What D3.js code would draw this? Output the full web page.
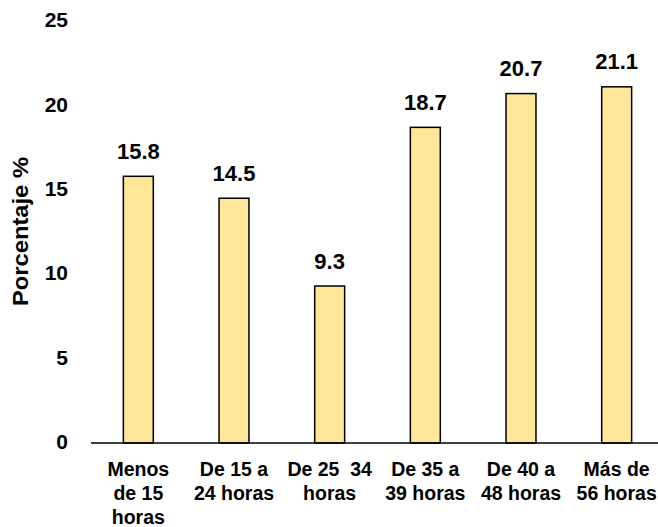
<!DOCTYPE html>
<html>
<head>
<meta charset="utf-8">
<script src="https://cdn.jsdelivr.net/npm/d3@7"></script>
<style>
  html, body { margin: 0; padding: 0; background: #fff; }
  svg { display: block; font-family: "Liberation Sans", Arial, sans-serif; }
</style>
</head>
<body>
<svg id="chart" width="658" height="527"></svg>
<script>
// Weekly working hours categories (each label split in lines)
const categories = [
  ["Menos", "de 15", "horas"],
  ["De 15 a", "24 horas"],
  ["De 25  34", "horas"],
  ["De 35 a", "39 horas"],
  ["De 40 a", "48 horas"],
  ["Más de", "56 horas"]
];
const values = [15.8, 14.5, 9.3, 18.7, 20.7, 21.1];
const yTicks = [0, 5, 10, 15, 20, 25];
const yTitle = "Porcentaje %";

const svg = d3.select("#chart");
const keys = categories.map((c, i) => i);

const x = d3.scaleBand()
  .domain(keys)
  .range([90.5, 664.5])
  .paddingInner(0.687)
  .paddingOuter(0.3435);

const y = d3.scaleLinear().domain([0, 25]).range([443, 21]);

// Y axis: labels only, no line or ticks
const yAxis = svg.append("g")
  .attr("transform", "translate(68,-1)")
  .call(d3.axisLeft(y).tickValues(yTicks).tickSize(0).tickPadding(0));
yAxis.select(".domain").remove();
yAxis.selectAll("text")
  .attr("font-size", 21)
  .attr("font-weight", "bold")
  .attr("fill", "#000")
  .attr("font-family", "Liberation Sans, Arial, sans-serif");

// Axis title
svg.append("text")
  .attr("transform", "translate(28,231.5) rotate(-90)")
  .attr("text-anchor", "middle")
  .attr("font-size", 22)
  .attr("font-weight", "bold")
  .attr("textLength", 149)
  .attr("lengthAdjust", "spacingAndGlyphs")
  .text(yTitle);

// Bars
svg.append("g").selectAll("rect")
  .data(values)
  .join("rect")
  .attr("x", (d, i) => x(i))
  .attr("y", d => y(d))
  .attr("width", x.bandwidth())
  .attr("height", d => y(0) - y(d))
  .attr("fill", "#FFE699")
  .attr("stroke", "#000")
  .attr("stroke-width", 1.5);

// Baseline
svg.append("line")
  .attr("x1", 91).attr("x2", 658)
  .attr("y1", y(0)).attr("y2", y(0))
  .attr("stroke", "#000")
  .attr("stroke-width", 1.5);

// Value labels
svg.append("g").selectAll("text")
  .data(values)
  .join("text")
  .attr("x", (d, i) => x(i) + x.bandwidth() / 2)
  .attr("y", d => y(d) - 17.5)
  .attr("text-anchor", "middle")
  .attr("font-size", 22)
  .attr("font-weight", "bold")
  .text(d => d.toFixed(1));

// Category labels
const cat = svg.append("g").selectAll("text")
  .data(categories)
  .join("text")
  .attr("text-anchor", "middle")
  .attr("font-size", 19.5)
  .attr("font-weight", "bold")
  .attr("xml:space", "preserve")
  .style("white-space", "pre");
cat.each(function(lines, i) {
  const cx = x(i) + x.bandwidth() / 2;
  d3.select(this).selectAll("tspan")
    .data(lines)
    .join("tspan")
    .attr("x", cx)
    .attr("y", (l, j) => 475.5 + j * 24.3)
    .text(l => l);
});
</script>
</body>
</html>
